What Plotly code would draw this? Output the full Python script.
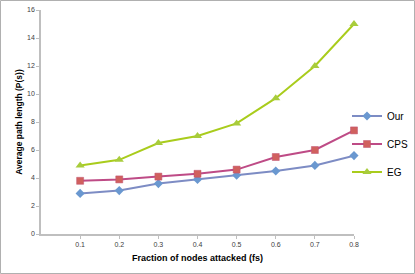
import plotly.graph_objects as go

fractions = [0.1, 0.2, 0.3, 0.4, 0.5, 0.6, 0.7, 0.8]
our_vals = [2.9, 3.1, 3.6, 3.9, 4.2, 4.5, 4.9, 5.6]
cps_vals = [3.8, 3.9, 4.1, 4.3, 4.6, 5.5, 6.0, 7.4]
eg_vals = [4.9, 5.3, 6.5, 7.0, 7.9, 9.7, 12.0, 15.0]
x_ticks = [0.1, 0.2, 0.3, 0.4, 0.5, 0.6, 0.7, 0.8]
y_ticks = [0, 2, 4, 6, 8, 10, 12, 14, 16]

W, H = 415, 274
L, R, T, B = 41, 61, 10, 40
pw, ph = W - L - R, H - T - B

fig = go.Figure()
fig.add_trace(go.Scatter(x=fractions, y=our_vals, name="Our", mode="lines+markers",
                         line=dict(color="#7D8CC4", width=2),
                         marker=dict(symbol="diamond", size=7, color="#6A98D0"),
                         cliponaxis=False, legendgroup="a"))
fig.add_trace(go.Scatter(x=fractions, y=cps_vals, name="CPS", mode="lines+markers",
                         line=dict(color="#BE4B86", width=2),
                         marker=dict(symbol="square", size=7, color="#D0605E",
                                     line=dict(color="#C05070", width=0.5)),
                         cliponaxis=False, legendgroup="b"))
fig.add_trace(go.Scatter(x=fractions, y=eg_vals, name="EG", mode="lines+markers",
                         line=dict(color="#A9CC1C", width=2),
                         marker=dict(symbol="triangle-up", size=8, color="#A8CC3C"),
                         cliponaxis=False, legendgroup="c"))

fig.update_layout(
    width=W, height=H,
    margin=dict(l=L, r=R, t=T, b=B, autoexpand=False),
    paper_bgcolor="white", plot_bgcolor="white",
    font=dict(family="Liberation Sans, Arial, sans-serif", color="#000000"),
    showlegend=True,
    legend=dict(x=(347 - L) / pw, y=(234 - 144) / ph, xanchor="left", yanchor="middle",
                font=dict(size=10), tracegroupgap=9, itemwidth=30,
                bgcolor="rgba(0,0,0,0)"),
    xaxis=dict(range=[0, 0.8], tickvals=x_ticks, ticktext=[str(v) for v in x_ticks],
               showgrid=False, zeroline=False, showline=True, linecolor="#BFBFBF",
               linewidth=1.5, ticks="outside", ticklen=3, tickcolor="#BFBFBF",
               tickfont=dict(size=7, color="#404040"), automargin=False,
               title=dict(text="<b>Fraction of nodes attacked (fs)</b>",
                          font=dict(size=9), standoff=8)),
    yaxis=dict(range=[0, 16], tickvals=y_ticks, showgrid=False, zeroline=False,
               showline=True, linecolor="#BFBFBF", linewidth=1.5, ticks="outside",
               ticklen=3, tickcolor="#BFBFBF", tickfont=dict(size=7, color="#404040"),
               automargin=False,
               title=dict(text="<b>Average path length (P(s))</b>",
                          font=dict(size=8.5), standoff=3)),
    shapes=[dict(type="rect", xref="paper", yref="paper",
                 x0=(0.5 - L) / pw, x1=(W - 0.5 - L) / pw,
                 y0=-(H - 0.5 - (T + ph)) / ph, y1=(T + ph - 0.5) / ph,
                 line=dict(color="#B0B0B0", width=1), layer="below")],
)

fig.write_html("out.html", config={"displayModeBar": False},
               post_script="document.body.style.margin='0px';")
